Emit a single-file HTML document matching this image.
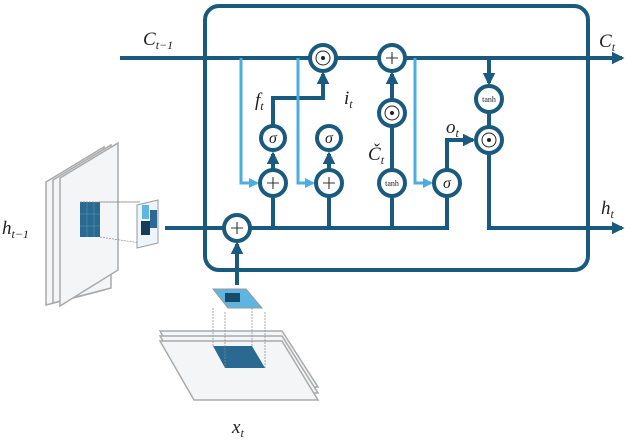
<!DOCTYPE html>
<html><head><meta charset="utf-8"><style>
body{margin:0;background:#fff}
svg text{font-family:"Liberation Serif",serif;font-style:italic;fill:#222}
</style></head><body>
<svg width="633" height="443" viewBox="0 0 633 443" xmlns="http://www.w3.org/2000/svg">
<defs>
<marker id="a" viewBox="0 0 10 10" refX="8" refY="5" markerWidth="3.2" markerHeight="3.2" orient="auto"><path d="M0,0L10,5L0,10z" fill="#1a5a7e"/></marker>
<marker id="b" viewBox="0 0 10 10" refX="8" refY="5" markerWidth="3.4" markerHeight="3.4" orient="auto"><path d="M0,0L10,5L0,10z" fill="#4aaee0"/></marker>
</defs>
<g stroke="#aaa" stroke-width="1.5" fill="#f4f5f6">
<polygon points="46,182 104,147 104,290 46,305"/>
<polygon points="53,180 111,145 111,288 53,303"/>
<polygon points="60,178 118,143 118,270 60,306"/>
</g>
<rect x="80" y="202" width="20" height="35" fill="#2a6a92"/>
<g stroke="#8cc" stroke-width="0.5" opacity="0.5"><line x1="80" y1="214" x2="100" y2="214"/><line x1="80" y1="226" x2="100" y2="226"/><line x1="87" y1="202" x2="87" y2="237"/><line x1="94" y1="202" x2="94" y2="237"/></g>
<g stroke="#888" stroke-width="0.7" stroke-dasharray="2,1" fill="none"><line x1="100" y1="202" x2="140" y2="202"/><line x1="100" y1="237" x2="140" y2="243"/><line x1="80" y1="202" x2="140" y2="202"/></g>
<polygon points="137,205 158,200 158,243 137,248" fill="#eef5fa" stroke="#999"/>
<rect x="142" y="205" width="7" height="14" fill="#5fb5e0"/><rect x="141" y="221" width="9" height="14" fill="#163e5a"/><rect x="150" y="210" width="7" height="18" fill="#2a6a92"/>
<g stroke="#aaa" stroke-width="1.5" fill="#f4f5f6">
<polygon points="160,331 282,331 318,387 190,387"/>
<polygon points="160,336 282,336 318,393 194,393"/>
<polygon points="160,341 282,341 318,400 194,400"/>
</g>
<polygon points="213,346 252,346 265,368 225,368" fill="#2a6a92"/>
<polygon points="213,289 246,289 262,308 228,308" fill="#5fb5e0" stroke="#999"/>
<rect x="225" y="293" width="15" height="9" fill="#1a4a6a"/>
<g stroke="#888" stroke-width="0.7" stroke-dasharray="2,1"><line x1="213" y1="308" x2="213" y2="346"/><line x1="225" y1="312" x2="225" y2="368"/><line x1="265" y1="312" x2="265" y2="368"/><line x1="252" y1="308" x2="252" y2="346"/></g>
<rect x="205" y="6" width="383" height="264" rx="14" fill="none" stroke="#1a5a7e" stroke-width="4"/>
<g stroke="#1a5a7e" stroke-width="4" fill="none">
<line x1="120" y1="58" x2="310" y2="58"/><line x1="336" y1="58" x2="379" y2="58"/><line x1="405" y1="58" x2="622" y2="58" marker-end="url(#a)"/>
<line x1="165" y1="228" x2="224" y2="228"/><line x1="250" y1="228" x2="449" y2="228"/>
<line x1="489" y1="153" x2="489" y2="228"/><line x1="487" y1="228" x2="622" y2="228" marker-end="url(#a)"/>
<line x1="237" y1="285" x2="237" y2="244" marker-end="url(#a)"/>
<line x1="273" y1="228" x2="273" y2="196"/><line x1="329" y1="228" x2="329" y2="196"/><line x1="392" y1="228" x2="392" y2="196"/><line x1="447" y1="228" x2="447" y2="196"/>
<line x1="273" y1="170" x2="273" y2="154" marker-end="url(#a)"/><line x1="329" y1="170" x2="329" y2="154" marker-end="url(#a)"/>
<polyline points="273,125 273,98 323,98 323,74" marker-end="url(#a)"/>
<line x1="392" y1="170" x2="392" y2="126"/><line x1="392" y1="100" x2="392" y2="74" marker-end="url(#a)"/>
<polyline points="447,170 447,140 473,140" marker-end="url(#a)"/>
<line x1="489" y1="58" x2="489" y2="83" marker-end="url(#a)"/><line x1="489" y1="112" x2="489" y2="127"/>
</g>
<g stroke="#4aaee0" stroke-width="3" fill="none">
<polyline points="241,58 241,183 257,183" marker-end="url(#b)"/>
<polyline points="298,58 298,183 313,183" marker-end="url(#b)"/>
<polyline points="415,58 415,183 431,183" marker-end="url(#b)"/>
</g>
<g fill="#fff" stroke="#1a5a7e" stroke-width="4">
<circle cx="323" cy="58" r="13"/><circle cx="392" cy="58" r="13"/>
<circle cx="273" cy="138" r="12"/><circle cx="273" cy="183" r="13"/>
<circle cx="329" cy="138" r="12"/><circle cx="329" cy="183" r="13"/>
<circle cx="392" cy="113" r="13"/><circle cx="392" cy="183" r="13"/>
<circle cx="447" cy="183" r="13"/><circle cx="489" cy="99" r="13"/><circle cx="489" cy="140" r="13"/>
<circle cx="237" cy="228" r="13"/>
</g>
<g stroke="#333" stroke-width="1.1">
<path d="M267,183h12M273,177v12"/><path d="M323,183h12M329,177v12"/><path d="M386,58h12M392,52v12"/><path d="M231,228h12M237,222v12"/>
</g>
<g fill="#222"><circle cx="323" cy="58" r="2"/><circle cx="392" cy="113" r="2"/><circle cx="489" cy="140" r="2"/></g>
<g fill="none" stroke="#222" stroke-width="1"><circle cx="323" cy="58" r="7"/><circle cx="392" cy="113" r="7"/><circle cx="489" cy="140" r="7"/></g>
<g text-anchor="middle" font-size="16">
<text x="273" y="143">σ</text><text x="329" y="143">σ</text><text x="447" y="188">σ</text>
</g>
<g text-anchor="middle" font-size="8">
<text x="392" y="186" style="font-style:normal">tanh</text><text x="489" y="102" style="font-style:normal">tanh</text>
</g>
<g font-size="19">
<text x="143" y="45">C<tspan font-size="12" dy="4">t−1</tspan></text>
<text x="599" y="47">C<tspan font-size="12" dy="4">t</tspan></text>
<text x="601" y="214">h<tspan font-size="12" dy="4">t</tspan></text>
<text x="2" y="234">h<tspan font-size="12" dy="4">t−1</tspan></text>
<text x="232" y="433">x<tspan font-size="12" dy="4">t</tspan></text>
<text x="255" y="106">f<tspan font-size="12" dy="4">t</tspan></text>
<text x="344" y="104">i<tspan font-size="12" dy="4">t</tspan></text>
<text x="368" y="160">Č<tspan font-size="12" dy="4">t</tspan></text>
<text x="446" y="133">o<tspan font-size="12" dy="4">t</tspan></text>
</g>
</svg>
</body></html>
